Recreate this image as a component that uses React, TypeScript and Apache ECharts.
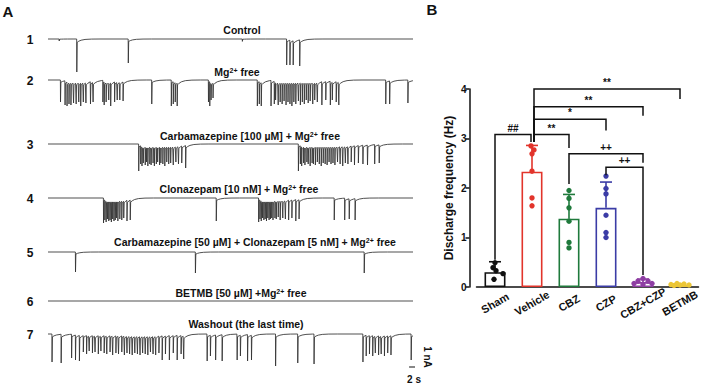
import React, { useEffect, useRef } from 'react';
import * as echarts from 'echarts';

const FONT = 'Arial, "Liberation Sans", Helvetica, sans-serif';

// ---------------- Panel A: traces (spike times in s, amplitudes in nA) ----------------
const TRACE_DURATION = 56;
const traceNumbers = ['1', '2', '3', '4', '5', '6', '7'];
const traceTitles = [
  'Control',
  'Mg{s|2+} free',
  'Carbamazepine [100 µM] + Mg{s|2+} free',
  'Clonazepam [10 nM] + Mg{s|2+} free',
  'Carbamazepine [50 µM] + Clonazepam [5 nM] + Mg{s|2+} free',
  'BETMB [50 µM] +Mg{s|2+} free',
  'Washout (the last time)',
];

const controlSpikes = [[1.7, 0.1], [4.4, 1.65], [12.3, 1.2], [29.8, 0.12], [36.6, 1.3], [37.1, 1.3], [37.6, 1.3], [38.6, 1.35]];

const mgFreeSpikes = [
  [1.9, 1.1], [2.6, 1.25], [2.9, 1.3], [3.2, 1.2], [3.5, 1.25], [3.9, 1.15], [4.3, 1.2], [4.7, 1.1], [5.0, 1.3], [5.4, 1.1], [5.8, 1.15], [6.5, 1.2], [6.9, 1.1],
  [8.4, 1.1], [8.6, 1.25], [8.9, 1.1], [9.3, 1.0], [9.6, 1.3], [10.2, 1.1], [10.6, 1.0], [11.0, 1.0], [11.5, 1.05],
  [15.9, 1.2],
  [18.9, 1.3], [19.2, 1.2], [19.5, 1.1], [19.8, 1.3],
  [24.6, 1.1], [24.8, 1.3], [25.0, 1.0], [25.3, 0.9],
  [32.1, 1.3], [32.4, 1.2], [32.7, 1.3],
  [34.2, 1.3], [34.7, 1.2], [34.9, 1.0], [35.3, 1.25], [35.6, 1.1], [35.9, 1.2], [36.2, 1.05], [36.5, 1.25], [36.8, 1.1], [37.1, 1.2], [37.4, 1.3], [37.7, 1.1], [38.0, 1.2], [38.4, 1.05], [38.7, 1.25], [39.0, 1.1], [39.3, 1.2], [39.6, 1.0], [39.9, 1.15], [40.2, 1.05], [40.6, 1.2], [40.9, 1.0], [41.3, 1.1],
  [42.0, 1.25], [42.6, 1.0], [43.3, 1.25], [43.6, 1.0], [44.2, 1.1], [44.6, 1.25],
  [51.8, 1.2], [52.4, 1.2], [55.2, 1.15],
];

const cbz100Spikes = [
  [13.9, 1.35], [14.2, 1.0], [14.4, 1.1], [14.6, 0.95], [14.9, 1.05], [15.1, 0.9], [15.3, 1.1], [15.6, 1.0], [15.8, 1.05], [16.1, 0.95], [16.3, 1.1], [16.6, 1.0], [16.8, 0.9], [17.1, 1.05], [17.3, 0.95], [17.6, 1.0], [17.9, 1.1], [18.2, 0.9], [18.5, 1.0], [18.8, 0.95], [19.2, 1.05], [19.6, 0.9], [20.0, 1.0], [20.5, 0.95], [21.1, 1.2],
  [38.4, 1.35], [38.7, 1.0], [38.9, 1.1], [39.2, 0.95], [39.4, 1.05], [39.7, 0.9], [39.9, 1.0], [40.2, 1.1], [40.5, 0.95], [40.7, 1.0], [41.0, 1.05], [41.3, 0.9], [41.6, 1.0], [41.9, 1.1], [42.2, 0.95], [42.5, 1.0], [42.8, 1.05], [43.1, 0.9], [43.4, 1.0], [43.7, 0.95], [44.0, 1.05], [44.4, 0.9], [44.8, 1.0], [45.2, 1.1], [45.6, 0.95], [46.0, 1.0], [46.5, 0.9], [47.0, 1.05], [47.6, 0.95], [48.3, 1.0], [49.0, 1.05], [50.1, 1.0], [50.8, 0.95],
];

const czp10Spikes = [
  [8.5, 1.25], [8.7, 1.1], [8.9, 1.2], [9.1, 1.05], [9.3, 1.15], [9.5, 1.1], [9.7, 1.2], [9.9, 1.05], [10.1, 1.15], [10.3, 1.1], [10.5, 1.0], [10.7, 1.15], [11.0, 1.05], [11.3, 1.1], [11.6, 1.0], [12.1, 1.15], [12.6, 1.1],
  [25.8, 1.15],
  [32.3, 1.2], [32.5, 1.05], [32.7, 1.15], [32.9, 1.0], [33.1, 1.1], [33.3, 1.05], [33.5, 1.15], [33.7, 1.0], [33.9, 1.1], [34.1, 1.05], [34.3, 1.0], [34.5, 1.1], [34.8, 1.0], [35.0, 1.05], [35.3, 0.95], [35.6, 1.1], [36.0, 1.0], [36.4, 1.05], [36.9, 1.1], [37.4, 1.0], [38.0, 1.15], [38.5, 1.05],
  [43.9, 1.1], [45.5, 1.1], [46.2, 1.05], [47.1, 1.1],
];

const comboSpikes = [[4.2, 1.0], [22.6, 1.05], [48.5, 1.05]];

const betmbSpikes: number[][] = [];

const washoutSpikes = [
  [0.6, 1.4], [2.0, 1.45], [3.6, 1.2], [4.2, 1.3], [4.8, 1.35],
  [5.4, 0.9], [5.9, 1.0], [6.3, 0.85], [6.8, 0.95], [7.2, 0.9], [7.7, 1.0], [8.1, 0.85], [8.6, 0.95], [9.0, 1.0], [9.5, 0.9], [9.9, 1.05], [10.4, 0.95], [10.8, 1.0], [11.3, 0.9], [11.7, 1.05], [12.1, 0.95], [12.5, 1.0], [12.9, 1.05], [13.3, 0.95], [13.7, 1.0], [14.1, 1.05], [14.5, 0.95], [14.9, 1.0], [15.3, 1.05], [15.7, 0.9], [16.1, 1.0], [16.5, 1.05], [17.0, 0.95], [17.5, 1.3], [18.0, 1.0], [18.6, 1.3], [19.2, 0.95], [19.8, 1.3], [20.4, 1.0], [20.8, 1.25],
  [24.4, 1.35], [24.9, 1.1], [25.7, 1.3], [26.7, 1.35], [29.0, 1.3], [29.5, 1.1], [30.6, 1.35], [31.2, 1.3],
  [34.9, 1.6], [38.3, 1.45], [40.8, 1.5],
  [48.3, 1.4], [48.8, 1.1], [49.3, 1.0], [49.8, 1.1], [50.2, 0.95], [50.7, 1.05], [51.1, 1.0], [51.6, 1.1], [52.1, 0.95], [52.6, 1.05], [55.7, 1.3],
];

const allSpikes = [controlSpikes, mgFreeSpikes, cbz100Spikes, czp10Spikes, comboSpikes, betmbSpikes, washoutSpikes];

// scale bar: 1 nA, 2 s
const SCALE_NA = 1;
const SCALE_S = 2;

// ---------------- Panel B: discharge frequency ----------------
const groups = ['Sham', 'Vehicle', 'CBZ', 'CZP', 'CBZ+CZP', 'BETMB'];
const groupColors = ['#111111', '#e2342b', '#1f7a3c', '#3b3ca6', '#8e3ea3', '#ecc636'];
const means = [0.30, 2.33, 1.38, 1.60, 0.10, 0.04];
const sds = [0.21, 0.53, 0.49, 0.52, 0.06, 0.02];
const shamPoints = [0.49, 0.39, 0.33, 0.27, 0.155];
const vehiclePoints = [2.85, 2.77, 2.69, 2.34, 1.80, 1.64];
const cbzPoints = [1.95, 1.79, 1.60, 1.33, 0.90, 0.79];
const czpPoints = [2.24, 1.99, 1.88, 1.45, 1.10, 1.00];
const comboPoints = [0.17, 0.12, 0.12, 0.07, 0.07, 0.05];
const betmbPoints = [0.07, 0.06, 0.05, 0.04, 0.04, 0.03];
const groupPoints = [shamPoints, vehiclePoints, cbzPoints, czpPoints, comboPoints, betmbPoints];
const pointJitter = [
  [0, -2, 1, 8, -1],
  [-1, 2, 0, 0, 0, 0],
  [0, 0, 0, 0, 0, 0],
  [0, 0, 0, 0, 0, 0],
  [0, -5, 5, -9, 9, 0],
  [-3, 4, -9, 9, 0, -6],
];

// significance brackets: [groupA, groupB], top y, leg ends
const bracketPairs = [[0, 1], [1, 2], [1, 3], [1, 4], [1, 5], [2, 4], [3, 4]];
const bracketTops = [3.08, 3.08, 3.39, 3.64, 4.0, 2.69, 2.42];
const bracketLeftEnds = [0.55, 2.93, 2.93, 2.93, 2.93, 2.08, 2.26];
const bracketRightEnds = [2.93, 2.81, 3.16, 3.46, 3.80, 2.51, 0.24];
const bracketMarks = ['##', '**', '*', '**', '**', '++', '++'];

// ---------------- layout (not data) ----------------
const traceBaselinePx = [39, 80, 144, 198, 252, 301, 334];
const titleCenters = [[242, 30], [237, 72], [250, 136], [239, 189], [255, 242], [241, 293], [246, 324]];

function buildTrace(spikes: number[][]): number[][] {
  const DIP = 0.1;
  const MAXDIP = 0.24;
  const TAU = 0.6;
  const pts: number[][] = [[0, 0]];
  let lastT = -1000;
  let lastDip = 0;
  const level = (t: number) => -lastDip * Math.exp(-(t - lastT) / TAU);
  spikes.forEach(([t, amp], i) => {
    const nextT = i + 1 < spikes.length ? spikes[i + 1][0] : TRACE_DURATION;
    const cur = level(t);
    pts.push([t, cur]);
    pts.push([t + 0.02, -amp]);
    const dip = Math.min(MAXDIP, -cur * 0.9 + amp * DIP);
    lastT = t + 0.08;
    lastDip = dip;
    pts.push([lastT, -dip]);
    [0.25, 0.6, 1.2, 2.2, 3.5].forEach((d) => {
      if (lastT + d < nextT) pts.push([lastT + d, level(lastT + d)]);
    });
  });
  pts.push([TRACE_DURATION, level(TRACE_DURATION)]);
  return pts;
}

export default function App() {
  const ref = useRef<HTMLDivElement>(null);
  useEffect(() => {
    if (!ref.current) return;
    const chart = echarts.init(ref.current, undefined, { renderer: 'svg' });
    const BAR_GRID = 7;
    const grids: any[] = traceBaselinePx.map((b) => ({ left: 48, width: 365, top: b - 10, height: 50 }));
    grids.push({ left: 476.5, width: 222, top: 89, bottom: 98 });

    const xAxes: any[] = traceBaselinePx.map((_, i) => ({ gridIndex: i, type: 'value', min: 0, max: TRACE_DURATION, show: false }));
    const yAxes: any[] = traceBaselinePx.map((_, i) => ({ gridIndex: i, type: 'value', min: -2, max: 0.5, show: false }));

    xAxes.push({
      gridIndex: BAR_GRID,
      type: 'category',
      data: groups,
      axisLine: { lineStyle: { color: '#111', width: 1.5 } },
      axisTick: { alignWithLabel: true, length: 4, lineStyle: { color: '#111', width: 1.5 } },
      axisLabel: {
        rotate: 30, align: 'center', verticalAlign: 'middle', margin: 16,
        fontWeight: 'bold', fontSize: 11, color: '#111', fontFamily: FONT, interval: 0,
      },
    });
    yAxes.push({
      gridIndex: BAR_GRID,
      type: 'value',
      min: 0, max: 4, interval: 1,
      offset: 7,
      axisLine: { show: true, lineStyle: { color: '#111', width: 1.5 } },
      axisTick: { show: true, length: 4, lineStyle: { color: '#111', width: 1.5 } },
      splitLine: { show: false },
      axisLabel: { fontWeight: 'bold', fontSize: 10, color: '#111', margin: 3, fontFamily: FONT },
      name: 'Discharge frequency (Hz)',
      nameLocation: 'middle',
      nameGap: 15,
      nameTextStyle: { fontWeight: 'bold', fontSize: 12, color: '#111', fontFamily: FONT },
    });

    const series: any[] = allSpikes.map((sp, i) => ({
      type: 'line',
      xAxisIndex: i,
      yAxisIndex: i,
      data: buildTrace(sp),
      showSymbol: false,
      clip: false,
      silent: true,
      lineStyle: { color: '#303030', width: 0.85 },
    }));

    // scale bar attached to the last trace
    const sbX = TRACE_DURATION + 1.4;
    const sbY = -1.65;
    series.push({
      type: 'line', xAxisIndex: 6, yAxisIndex: 6, clip: false, showSymbol: false, silent: true,
      data: [[sbX, sbY + SCALE_NA], [sbX, sbY], [sbX - SCALE_S, sbY]],
      lineStyle: { color: '#111', width: 1.2 },
    });

    series.push({
      type: 'bar',
      xAxisIndex: BAR_GRID, yAxisIndex: BAR_GRID,
      barWidth: 21,
      z: 2,
      data: means.map((v, i) => ({ value: v, itemStyle: { color: '#ffffff', borderColor: groupColors[i], borderWidth: 1.6 } })),
    });

    series.push({
      type: 'custom',
      xAxisIndex: BAR_GRID, yAxisIndex: BAR_GRID,
      z: 3,
      data: means.map((m, i) => [i, m, sds[i]]),
      renderItem: (params: any, api: any) => {
        const i = api.value(0);
        const p0 = api.coord([i, api.value(1)]);
        const p1 = api.coord([i, api.value(1) + api.value(2)]);
        const col = groupColors[params.dataIndex];
        return {
          type: 'group',
          children: [
            { type: 'line', shape: { x1: p0[0], y1: p0[1], x2: p1[0], y2: p1[1] }, style: { stroke: col, lineWidth: 1.6 } },
            { type: 'line', shape: { x1: p1[0] - 6, y1: p1[1], x2: p1[0] + 6, y2: p1[1] }, style: { stroke: col, lineWidth: 1.6 } },
          ],
        };
      },
    });

    const pointData: number[][] = [];
    groupPoints.forEach((pts, g) => pts.forEach((v, k) => pointData.push([g, v, pointJitter[g][k]])));
    series.push({
      type: 'custom',
      xAxisIndex: BAR_GRID, yAxisIndex: BAR_GRID,
      z: 4,
      data: pointData,
      renderItem: (params: any, api: any) => {
        const g = api.value(0);
        const p = api.coord([g, api.value(1)]);
        return { type: 'circle', shape: { cx: p[0] + api.value(2), cy: p[1], r: 2.7 }, style: { fill: groupColors[g] } };
      },
    });

    series.push({
      type: 'custom',
      xAxisIndex: BAR_GRID, yAxisIndex: BAR_GRID,
      z: 5,
      data: bracketPairs.map((p, i) => [p[0], p[1], bracketTops[i], bracketLeftEnds[i], bracketRightEnds[i]]),
      renderItem: (params: any, api: any) => {
        const a = api.value(0);
        const b = api.value(1);
        const top = api.value(2);
        const la = api.coord([a, top]);
        const rb = api.coord([b, top]);
        const lEnd = api.coord([a, api.value(3)]);
        const rEnd = api.coord([b, api.value(4)]);
        const xl = la[0] + (a === 1 ? 2 : 0);
        const xr = rb[0] + (b === 1 ? -1 : 0);
        return {
          type: 'group',
          children: [
            {
              type: 'polyline',
              shape: { points: [[xl, lEnd[1]], [xl, la[1]], [xr, rb[1]], [xr, rEnd[1]]] },
              style: { stroke: '#111', lineWidth: 1.5, fill: null },
            },
            {
              type: 'text',
              x: (xl + xr) / 2,
              y: la[1] - 1.5,
              style: {
                text: bracketMarks[params.dataIndex], fill: '#111', fontSize: 10, fontWeight: 'bold',
                fontFamily: FONT, align: 'center', verticalAlign: 'bottom',
              },
            },
          ],
        };
      },
    });

    const richSup = { s: { fontSize: 7, fontWeight: 'bold', fontFamily: FONT, fill: '#111', verticalAlign: 'top' } };
    const graphics: any[] = [];
    traceTitles.forEach((t, i) => {
      graphics.push({
        type: 'text', x: titleCenters[i][0], y: titleCenters[i][1],
        style: { text: t, rich: richSup, fill: '#111', fontSize: 10.5, fontWeight: 'bold', fontFamily: FONT, align: 'center', verticalAlign: 'middle' },
      });
    });
    traceNumbers.forEach((n, i) => {
      graphics.push({
        type: 'text', x: 30, y: traceBaselinePx[i] + 1,
        style: { text: n, fill: '#111', fontSize: 12, fontWeight: 'bold', fontFamily: FONT, align: 'center', verticalAlign: 'middle' },
      });
    });
    graphics.push({ type: 'text', x: 8, y: 11, style: { text: 'A', fill: '#111', fontSize: 15, fontWeight: 'bold', fontFamily: FONT, align: 'center', verticalAlign: 'middle' } });
    graphics.push({ type: 'text', x: 432, y: 9, style: { text: 'B', fill: '#111', fontSize: 15, fontWeight: 'bold', fontFamily: FONT, align: 'center', verticalAlign: 'middle' } });
    graphics.push({ type: 'text', x: 427, y: 357, rotation: -Math.PI / 2, style: { text: '1 nA', fill: '#111', fontSize: 10, fontWeight: 'bold', fontFamily: FONT, align: 'center', verticalAlign: 'middle' } });
    graphics.push({ type: 'text', x: 414, y: 379, style: { text: '2 s', fill: '#111', fontSize: 10, fontWeight: 'bold', fontFamily: FONT, align: 'center', verticalAlign: 'middle' } });

    chart.setOption({
      animation: false,
      backgroundColor: '#ffffff',
      textStyle: { fontFamily: FONT },
      grid: grids,
      xAxis: xAxes,
      yAxis: yAxes,
      series,
      graphic: graphics,
    });
    return () => chart.dispose();
  }, []);
  return <div ref={ref} style={{ position: 'fixed', left: 0, top: 0, width: 709, height: 385, background: '#fff' }} />;
}
